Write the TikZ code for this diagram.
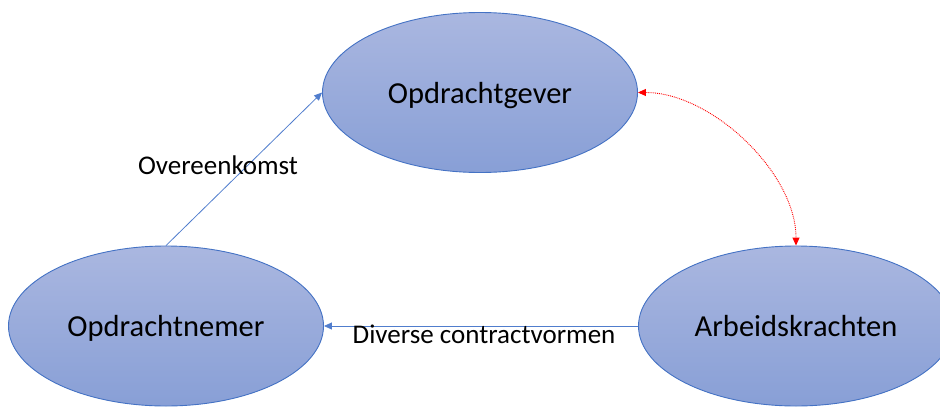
\documentclass[tikz,border=0pt]{standalone}
\usepackage{fontspec}
\setmainfont{Carlito}
\usetikzlibrary{shapes.geometric,arrows.meta}
\definecolor{elltop}{RGB}{170,183,224}
\definecolor{ellbot}{RGB}{136,159,214}
\definecolor{ellline}{RGB}{68,114,196}
\definecolor{linkblue}{RGB}{80,125,205}
\tikzset{
  party/.style={ellipse, draw=ellline, line width=0.9pt, top color=elltop, bottom color=ellbot,
    minimum width=315pt, minimum height=160pt, inner sep=0pt, text depth=0pt,
    font=\fontsize{30.5}{35}\selectfont},
  link/.style={draw=linkblue, line width=0.8pt, -{Triangle[length=8pt,width=7pt]}},
  redlink/.style={draw=red, line width=0.9pt, densely dotted, {Triangle[length=8pt,width=7pt]}-{Triangle[length=8pt,width=7pt]}},
  lbl/.style={font=\fontsize{27}{31}\selectfont, inner sep=0pt}
}
\begin{document}
\begin{tikzpicture}[x=1pt,y=-1pt]
\useasboundingbox (0,0) rectangle (940,410);
\node[party] (gever) at (480,92.5) {Opdrachtgever};
\node[party] (nemer) at (166,326) {Opdrachtnemer};
\node[party] (krachten) at (796,326) {Arbeidskrachten};
\draw[link] (nemer.north) -- (gever.west);
\draw[link] (krachten.west) -- (nemer.east);
\draw[redlink] (gever.east) to[out=0,in=90,looseness=0.85] (krachten.north);
\node[lbl] (l1) at (218,165) {Overeenkomst};
\node[lbl] (l2) at (484,334) {Diverse contractvormen};
\end{tikzpicture}
\end{document}
